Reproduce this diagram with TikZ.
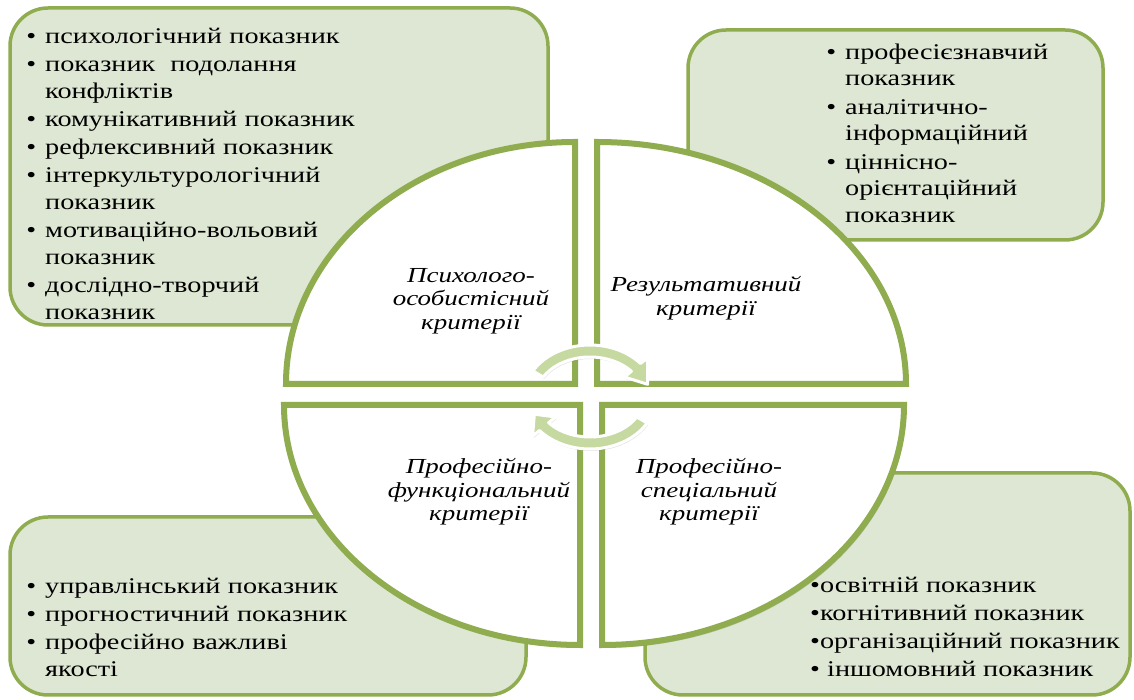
\documentclass[tikz,border=0pt]{standalone}
\usepackage{fontspec}
\setmainfont{Liberation Serif}[FakeStretch=1.26]
\usepackage{enumitem}
\setlist[itemize]{label=\textbullet,leftmargin=14bp,labelsep=9bp,topsep=0pt,partopsep=0pt,parsep=0pt,itemsep=1.2bp}
\usetikzlibrary{shadows}
\definecolor{critgreen}{RGB}{143,172,79}
\definecolor{panelfill}{RGB}{222,231,211}
\definecolor{cyclefill}{RGB}{197,217,161}
\begin{document}
\begin{tikzpicture}[line join=miter,
  panel/.style={draw=critgreen,line width=3.5bp,fill=panelfill,rounded corners=38bp},
  sector/.style={draw=critgreen,line width=6bp,fill=white,
    drop shadow={shadow xshift=2bp,shadow yshift=-3bp,opacity=.3}},
  cyclearrow/.style={draw=white,line width=3bp,fill=cyclefill,line join=round,
    drop shadow={shadow xshift=1bp,shadow yshift=-2bp,opacity=.2}},
  itemlist/.style={anchor=north west,inner sep=0pt,align=left,font=\fontsize{22.5}{27}\selectfont},
  crit/.style={align=center,inner sep=0pt,font=\itshape\fontsize{21.5}{23.5}\selectfont},
]
\useasboundingbox (0bp,0bp) rectangle (1134bp,700bp);
\fill[white] (0bp,0bp) rectangle (1134bp,700bp);
%% panels with the indicators
\draw[panel] (10bp,375bp) rectangle (548bp,692bp);
\draw[panel] (688bp,460bp) rectangle (1103bp,670bp);
\draw[panel] (10bp,5bp) rectangle (526bp,183bp);
\draw[panel] (645bp,5bp) rectangle (1130bp,227bp);
%
\node (list_psych) at (31bp,684bp) [itemlist,text width=420bp] {\begin{itemize}
  \item психологічний показник
  \item показник\ \ подолання\\конфліктів
  \item комунікативний показник
  \item рефлексивний показник
  \item інтеркультурологічний\\показник
  \item мотиваційно-вольовий\\показник
  \item дослідно-творчий\\показник
\end{itemize}};
\node (list_result) at (831bp,668bp) [itemlist,text width=260bp] {\begin{itemize}
  \item професієзнавчий\\показник
  \item аналітично-\\інформаційний
  \item ціннісно-\\орієнтаційний\\показник
\end{itemize}};
\node (list_func) at (31bp,134bp) [itemlist,text width=420bp] {\begin{itemize}
  \item управлінський показник
  \item прогностичний показник
  \item професійно важливі\\якості
\end{itemize}};
\node (list_spec) at (810bp,123bp) [itemlist,font=\fontsize{22.5}{28}\selectfont]
  {•освітній показник\\•когнітивний показник\\•організаційний показник\\• іншомовний показник};
%% four quarters of the criteria disc
\draw[sector] (575bp,316bp) -- (286bp,316bp) arc[start angle=180,end angle=90,x radius=289bp,y radius=242bp] -- cycle;
\draw[sector] (597bp,316bp) -- (597bp,558bp) arc[start angle=90,end angle=0,x radius=309bp,y radius=242bp] -- cycle;
\draw[sector] (580bp,295bp) -- (284bp,295bp) arc[start angle=180,end angle=270,x radius=296bp,y radius=240bp] -- cycle;
\draw[sector] (602bp,295bp) -- (904bp,295bp) arc[start angle=0,end angle=-90,x radius=302bp,y radius=240bp] -- cycle;
%
\begin{scope}[shift={(590bp,303bp)}]
  \draw[cyclearrow] (150:66bp and 52bp) arc[start angle=150,end angle=40,x radius=66bp,y radius=52bp]
    -- (40:75bp and 61bp) -- (16:60bp and 46bp) -- (40:45bp and 31bp)
    -- (40:54bp and 40bp) arc[start angle=40,end angle=150,x radius=54bp,y radius=40bp] -- cycle;
  \draw[cyclearrow] (-30:66bp and 52bp) arc[start angle=-30,end angle=-140,x radius=66bp,y radius=52bp]
    -- (-140:75bp and 61bp) -- (-158:60bp and 46bp) -- (-140:45bp and 31bp)
    -- (-140:54bp and 40bp) arc[start angle=-140,end angle=-30,x radius=54bp,y radius=40bp] -- cycle;
\end{scope}
%
\node (crit_psych) at (471bp,399bp) [crit] {Психолого-\\особистісний\\критерії};
\node (crit_result) at (706bp,402bp) [crit] {Результативний\\критерії};
\node (crit_func) at (479bp,208bp) [crit] {Професійно-\\функціональний\\критерії};
\node (crit_spec) at (709bp,208bp) [crit] {Професійно-\\спеціальний\\критерії};
%
\end{tikzpicture}
\end{document}
